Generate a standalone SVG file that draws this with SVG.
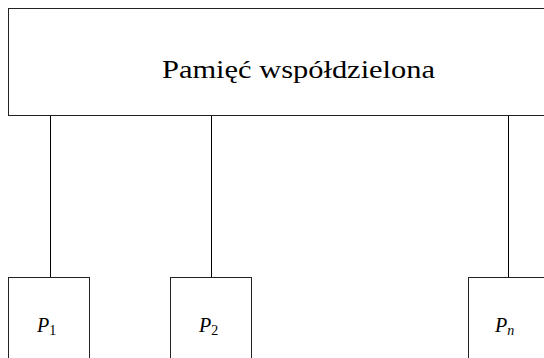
<svg xmlns="http://www.w3.org/2000/svg" width="544" height="358" viewBox="0 0 544 358">
<style>
.box{fill:#fff;stroke:#222;stroke-width:1}
.wire{stroke:#000;stroke-width:1;fill:none}
</style>
<rect width="544" height="358" fill="#fff"/>
<g id="memory">
<rect class="box" x="8.5" y="8.5" width="600" height="107"/>
<text x="298.5" y="78" font-family="Liberation Serif, DejaVu Serif, serif" font-size="25" text-anchor="middle" textLength="273" lengthAdjust="spacingAndGlyphs">Pamięć współdzielona</text>
</g>
<g id="connectors">
<line class="wire" x1="50.5" y1="115.5" x2="50.5" y2="277.5"/>
<line class="wire" x1="211.5" y1="115.5" x2="211.5" y2="277.5"/>
<line class="wire" x1="508.5" y1="115.5" x2="508.5" y2="277.5"/>
</g>
<g id="p1">
<rect class="box" x="8.5" y="277.5" width="81" height="100"/>
<text x="37" y="332" font-family="Liberation Serif, DejaVu Serif, serif" font-style="italic" font-size="20">P<tspan font-style="normal" font-size="14" dy="3">1</tspan></text>
</g>
<g id="p2">
<rect class="box" x="170.5" y="277.5" width="81" height="100"/>
<text x="199" y="332" font-family="Liberation Serif, DejaVu Serif, serif" font-style="italic" font-size="20">P<tspan font-style="normal" font-size="14" dy="3">2</tspan></text>
</g>
<g id="pn">
<rect class="box" x="468.5" y="277.5" width="100" height="100"/>
<text x="495" y="332" font-family="Liberation Serif, DejaVu Serif, serif" font-style="italic" font-size="20">P<tspan font-size="14" dy="3">n</tspan></text>
</g>
</svg>
